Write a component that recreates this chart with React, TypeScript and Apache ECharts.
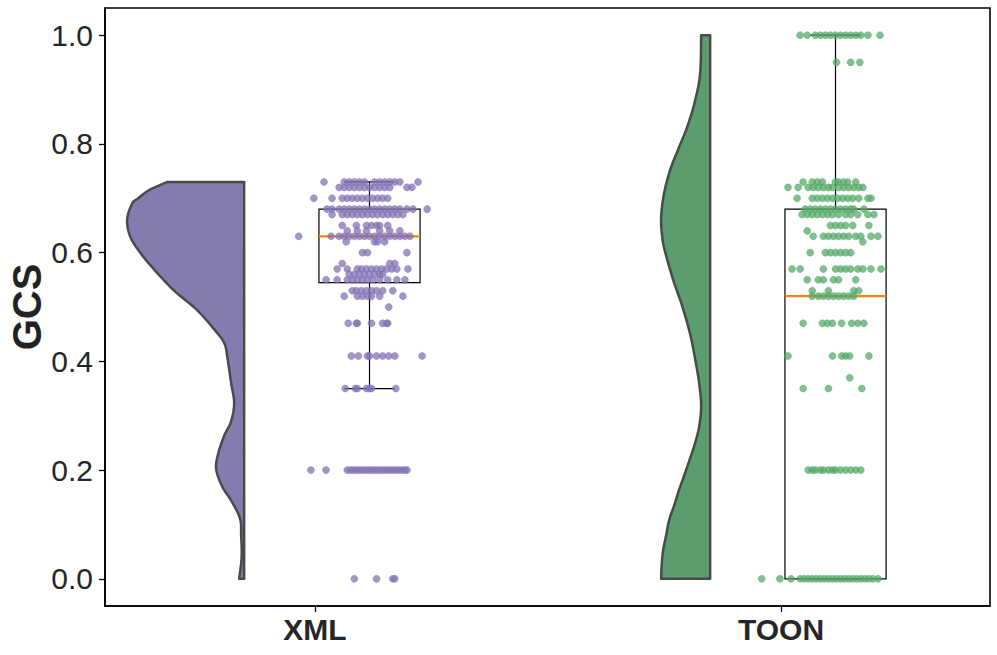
import React, { useEffect, useRef } from "react";
import * as echarts from "echarts";

const CATEGORIES = ["XML", "TOON"];
const Y_TICKS = [0, 0.2, 0.4, 0.6, 0.8, 1.0];

// box statistics: [lower whisker, Q1, median, Q3, upper whisker]
const XML_BOX = [0.35, 0.545, 0.63, 0.68, 0.73];
const TOON_BOX = [0.0, 0.0, 0.52, 0.68, 1.0];

// half-violin density profiles: [value, density]
const XML_VIOLIN: [number, number][] = [
  [0.73, 0.77], [0.715, 0.95], [0.7, 1.06], [0.69, 1.12], [0.661, 1.17], [0.63, 1.14],
  [0.6, 1.04], [0.569, 0.9], [0.53, 0.7], [0.496, 0.48], [0.459, 0.3], [0.434, 0.2],
  [0.41, 0.17], [0.36, 0.13], [0.324, 0.1], [0.29, 0.13], [0.263, 0.2], [0.23, 0.26],
  [0.202, 0.28], [0.17, 0.22], [0.141, 0.12], [0.11, 0.04], [0.08, 0.03], [0.04, 0.025],
  [0.0, 0.05],
];
const TOON_VIOLIN: [number, number][] = [
  [1.0, 0.09], [0.93, 0.1], [0.88, 0.15], [0.831, 0.23], [0.79, 0.32], [0.752, 0.4],
  [0.71, 0.46], [0.666, 0.49], [0.63, 0.48], [0.601, 0.45], [0.55, 0.37], [0.502, 0.28],
  [0.45, 0.2], [0.404, 0.15], [0.36, 0.11], [0.318, 0.09], [0.28, 0.11], [0.25, 0.15],
  [0.219, 0.205], [0.19, 0.26], [0.164, 0.31], [0.135, 0.36], [0.108, 0.41], [0.08, 0.44],
  [0.053, 0.47], [0.025, 0.485], [0.0, 0.49],
];

// jittered observations: [value, jitter offsets (fraction of box half-width)]
const XML_POINTS: [number, number[]][] = [
  [0.73, [-0.9, -0.5, -0.4, -0.3, -0.2, -0.1, 0.1, 0.2, 0.3, 0.4, 0.5, 0.6, 0.96]],
  [0.72, [-0.6, -0.5, -0.4, -0.3, -0.2, -0.1, 0, 0.1, 0.2, 0.3, 0.4, 0.74, 0.84]],
  [0.7, [-1.1, -0.74, -0.54, -0.44, -0.34, -0.24, -0.14, -0.04, 0.06, 0.16, 0.26, 0.36]],
  [0.68, [-0.84, -0.74, -0.6, -0.5, -0.4, -0.3, -0.2, -0.1, 0, 0.1, 0.2, 0.3, 0.4, 0.5, 0.6, 0.74, 0.86, 1.14]],
  [0.67, [-0.74, -0.54, -0.44, -0.34, -0.24, -0.14, -0.04, 0.06, 0.16, 0.26, 0.36, 0.46, 0.56, 0.66]],
  [0.65, [-0.54, -0.26, -0.06, 0.04, 0.14, 0.2, 0.36]],
  [0.64, [-0.44, -0.24, -0.06, 0.2, 0.4, 0.6]],
  [0.63, [-1.4, -0.76, -0.6, -0.5, -0.4, -0.3, -0.2, -0.1, 0, 0.1, 0.2, 0.3, 0.4, 0.5, 0.6, 0.7, 0.8]],
  [0.62, [-0.46, 0.1, 0.16, 0.3]],
  [0.6, [-0.14, -0.04, 0.74]],
  [0.58, [-0.54, 0.4, 0.5]],
  [0.57, [-0.64, -0.44, -0.24, -0.16, -0.06, 0.04, 0.14, 0.24, 0.34, 0.44, 0.54, 0.76]],
  [0.56, [-0.4, -0.3, -0.2, -0.1, 0, 0.1, 0.2, 0.26]],
  [0.55, [-0.86, -0.64, -0.44, -0.34, -0.24, -0.14, -0.04, 0.06, 0.2, 0.36, 0.54, 0.7]],
  [0.53, [-0.34, -0.26, -0.16, -0.06, 0.04, 0.14, 0.26, 0.46]],
  [0.52, [-0.5, -0.24, -0.14, -0.04, 0.04, 0.2, 0.66]],
  [0.5, [0.38]],
  [0.47, [-0.42, -0.26, -0.24, 0.04, 0.26, 0.34, 0.36]],
  [0.41, [-0.36, -0.22, -0.04, 0, 0.14, 0.26, 0.38, 0.5, 1.04]],
  [0.35, [-0.48, -0.28, -0.24, -0.06, 0, 0.04, 0.52]],
  [0.2, [-1.16, -0.86, -0.44, -0.38, -0.32, -0.26, -0.2, -0.14, -0.08, -0.02, 0.04, 0.1, 0.16, 0.22, 0.28, 0.34, 0.4, 0.46, 0.52, 0.58, 0.64, 0.7, 0.74]],
  [0.0, [-0.3, 0.14, 0.46, 0.5]],
];
const TOON_POINTS: [number, number[]][] = [
  [1.0, [-0.7, -0.56, -0.4, -0.3, -0.2, -0.1, 0, 0.1, 0.2, 0.3, 0.4, 0.5, 0.64, 0.88]],
  [0.95, [0.02, 0.3, 0.48]],
  [0.73, [-0.64, -0.46, -0.36, -0.26, 0, 0.06, 0.16, 0.24, 0.4]],
  [0.72, [-0.94, -0.74, -0.54, -0.44, -0.34, -0.24, -0.14, -0.06, 0.06, 0.16, 0.26, 0.36, 0.46, 0.54]],
  [0.7, [-0.76, -0.46, -0.36, -0.26, -0.16, -0.06, 0.04, 0.14, 0.24, 0.34, 0.46, 0.64, 0.7]],
  [0.68, [-0.6, -0.5, -0.4, -0.3, -0.2, -0.1, 0, 0.1, 0.2, 0.3, 0.36, 0.56]],
  [0.67, [-0.66, -0.56, -0.46, -0.36, -0.26, -0.16, -0.06, 0.06, 0.2, 0.3, 0.44, 0.64, 0.76]],
  [0.65, [-0.1, 0, 0.1, 0.2, 0.34, 0.66]],
  [0.64, [-0.56]],
  [0.63, [-0.44, -0.24, -0.14, -0.04, 0.06, 0.16, 0.26, 0.4, 0.5, 0.7, 0.84]],
  [0.62, [0.54]],
  [0.6, [-0.5, -0.2, -0.1, 0, 0.1, 0.2, 0.3]],
  [0.57, [-0.86, -0.7, -0.24, 0, 0.1, 0.2, 0.3, 0.44, 0.54, 0.7, 0.9]],
  [0.55, [-0.56, -0.34, -0.24, -0.04, 0.06, 0.4]],
  [0.53, [-0.46, -0.14, 0.36, 0.46]],
  [0.52, [-0.46, -0.34, -0.24, -0.14, -0.04, 0.06, 0.16, 0.26, 0.36]],
  [0.47, [-0.64, -0.26, -0.16, -0.06, 0.12, 0.32, 0.44, 0.56]],
  [0.41, [-0.94, -0.06, 0.12, 0.2, 0.28, 0.66]],
  [0.37, [0.28]],
  [0.35, [-0.64, -0.14, 0.52]],
  [0.2, [-0.54, -0.46, -0.4, -0.3, -0.24, -0.14, -0.06, 0, 0.1, 0.2, 0.3, 0.4, 0.5]],
  [0.0, [-1.46, -1.1, -0.88, -0.7, -0.62, -0.54, -0.46, -0.38, -0.3, -0.22, -0.14, -0.06, 0.02, 0.1, 0.18, 0.26, 0.34, 0.42, 0.5, 0.58, 0.66, 0.74, 0.84]],
];

const BOXES = [XML_BOX, TOON_BOX];
const VIOLINS = [XML_VIOLIN, TOON_VIOLIN];
const POINTS = [XML_POINTS, TOON_POINTS];

const VIOLIN_FILL = ["#857BAE", "#5C9C6E"];
const POINT_COLOR = ["#8172B3", "#55A868"];
const VIOLIN_OFFSET = -0.152;
const VIOLIN_SCALE = 0.2146;
const BOX_OFFSET = 0.117;
const BOX_WIDTH = 0.217;
const FONT = "Liberation Sans, Arial, Helvetica, sans-serif";

function catmull(profile: [number, number][], steps: number): [number, number][] {
  const out: [number, number][] = [];
  const n = profile.length;
  for (let k = 0; k < n - 1; k++) {
    const p0 = profile[Math.max(k - 1, 0)];
    const p1 = profile[k];
    const p2 = profile[k + 1];
    const p3 = profile[Math.min(k + 2, n - 1)];
    for (let s = 0; s < steps; s++) {
      const t = s / steps;
      const t2 = t * t;
      const t3 = t2 * t;
      const f = (a: number, b: number, c: number, d: number) =>
        0.5 * (2 * b + (-a + c) * t + (2 * a - 5 * b + 4 * c - d) * t2 + (-a + 3 * b - 3 * c + d) * t3);
      out.push([f(p0[0], p1[0], p2[0], p3[0]), f(p0[1], p1[1], p2[1], p3[1])]);
    }
  }
  out.push(profile[n - 1]);
  return out;
}

export default function App() {
  const ref = useRef<HTMLDivElement>(null);
  useEffect(() => {
    document.body.style.margin = "0";
    if (!ref.current) return;
    const chart = echarts.init(ref.current, null, { renderer: "svg" });

    const scatterSeries = POINTS.map((rows, i) => ({
      type: "scatter",
      symbolSize: 7,
      z: 4,
      itemStyle: { color: POINT_COLOR[i], opacity: 0.74, borderColor: POINT_COLOR[i], borderWidth: 0.6 },
      data: rows.flatMap(([v, js]) => js.map((j) => [i + BOX_OFFSET + (j * BOX_WIDTH) / 2, v])),
    }));

    const option: any = {
      animation: false,
      backgroundColor: "#ffffff",
      grid: {
        left: 105, right: 7, top: 8, bottom: 49,
        show: true, borderColor: "#000", borderWidth: 1.6,
        containLabel: false, outerBoundsMode: "none",
      },
      xAxis: {
        type: "value",
        min: -0.4506,
        max: 1.4485,
        splitLine: { show: false },
        axisLine: { show: true, onZero: false, lineStyle: { color: "#000", width: 1.6 } },
        axisTick: { show: true, customValues: [0, 1], length: 6, lineStyle: { color: "#000", width: 1.3 } },
        axisLabel: {
          customValues: [0, 1],
          formatter: (v: number) => CATEGORIES[Math.round(v)],
          fontSize: 30, fontWeight: "bold", color: "#262626", fontFamily: FONT, margin: 8,
        },
      },
      yAxis: {
        type: "value",
        min: -0.05,
        max: 1.05,
        name: "GCS",
        nameLocation: "middle",
        nameGap: 58,
        nameMoveOverlap: false,
        nameTextStyle: { fontSize: 40, fontWeight: "bold", color: "#222", fontFamily: FONT, lineHeight: 40 },
        splitLine: { show: false },
        axisLine: { show: true, onZero: false, lineStyle: { color: "#000", width: 1.6 } },
        axisTick: { show: true, customValues: Y_TICKS, length: 6, lineStyle: { color: "#000", width: 1.3 } },
        axisLabel: {
          customValues: Y_TICKS,
          formatter: (v: number) => v.toFixed(1),
          fontSize: 30, color: "#262626", fontFamily: FONT, margin: 12,
        },
      },
      series: [
        {
          type: "custom",
          z: 2,
          data: [[0], [1]],
          renderItem: (params: any, api: any) => {
            const i = api.value(0);
            const prof = VIOLINS[i];
            const base = i + VIOLIN_OFFSET;
            const curve = catmull(prof, 12);
            const pts: number[][] = [];
            pts.push(api.coord([base, prof[0][0]]));
            curve.forEach(([v, d]) => pts.push(api.coord([base - d * VIOLIN_SCALE, v])));
            pts.push(api.coord([base, prof[prof.length - 1][0]]));
            return {
              type: "polygon",
              shape: { points: pts },
              style: { fill: VIOLIN_FILL[i], stroke: "#4a4a4a", lineWidth: 2.5, lineJoin: "round" },
            };
          },
        },
        {
          type: "custom",
          z: 3,
          data: [[0], [1]],
          renderItem: (params: any, api: any) => {
            const i = api.value(0);
            const [lo, q1, med, q3, hi] = BOXES[i];
            const c = i + BOX_OFFSET;
            const hw = BOX_WIDTH / 2;
            const cw = BOX_WIDTH / 4;
            const tl = api.coord([c - hw, q3]);
            const br = api.coord([c + hw, q1]);
            const line = (x1: number, y1: number, x2: number, y2: number, color = "#000", w = 1.2) => {
              const a = api.coord([x1, y1]);
              const b = api.coord([x2, y2]);
              return { type: "line", shape: { x1: a[0], y1: a[1], x2: b[0], y2: b[1] }, style: { stroke: color, lineWidth: w } };
            };
            return {
              type: "group",
              children: [
                line(c, q3, c, hi),
                line(c, q1, c, lo),
                line(c - cw, hi, c + cw, hi),
                line(c - cw, lo, c + cw, lo),
                {
                  type: "rect",
                  shape: { x: tl[0], y: tl[1], width: br[0] - tl[0], height: br[1] - tl[1] },
                  style: { fill: "none", stroke: "#000", lineWidth: 1.2 },
                },
                line(c - hw, med, c + hw, med, "#FF7F0E", 2.2),
              ],
            };
          },
        },
        ...scatterSeries,
      ],
    };
    chart.setOption(option);
    return () => chart.dispose();
  }, []);
  return <div ref={ref} style={{ width: 997, height: 655 }} />;
}
